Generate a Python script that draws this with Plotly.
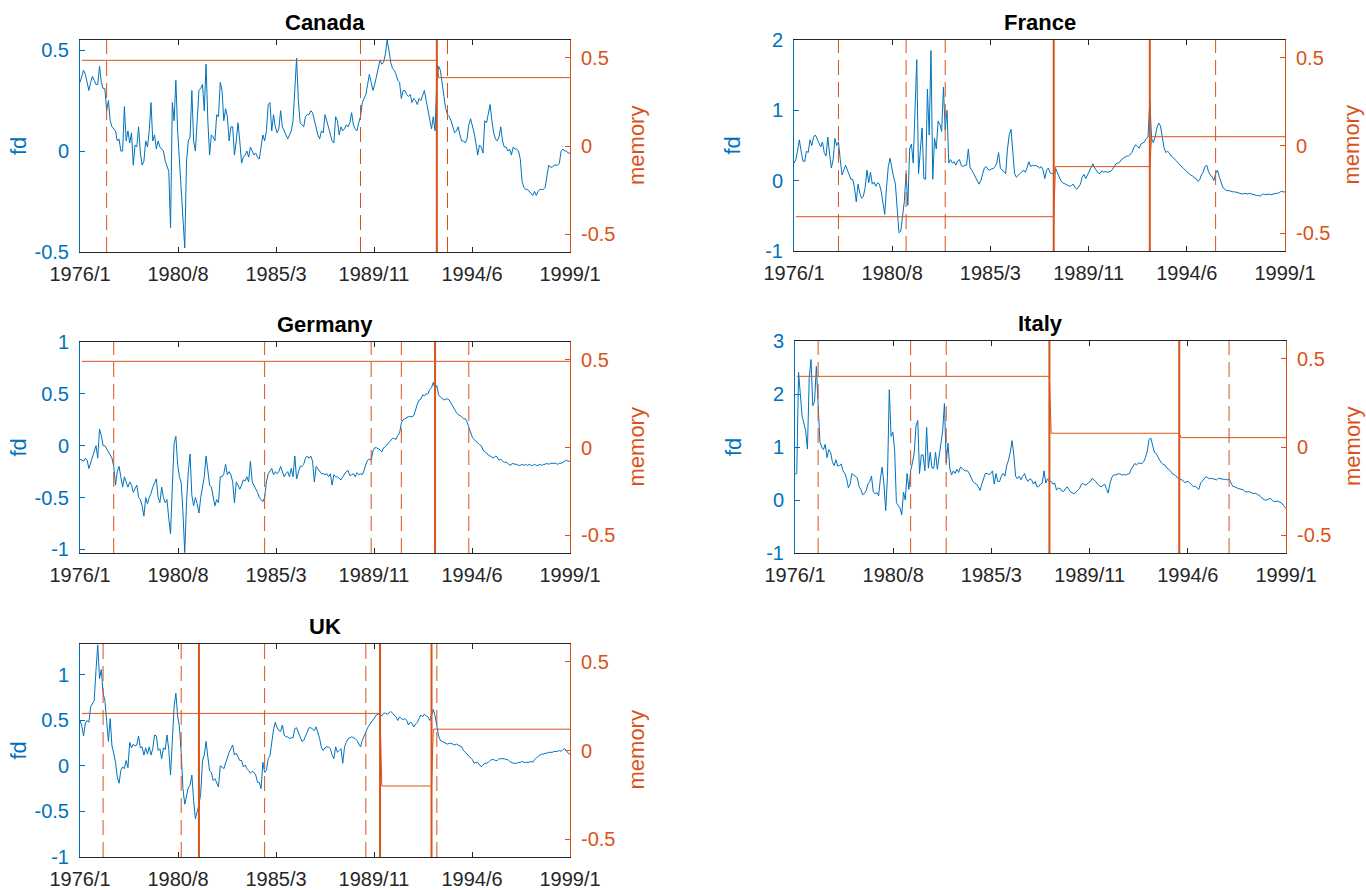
import plotly.graph_objects as go

# ---------------- data ----------------
tick_labels = ['1976/1', '1980/8', '1985/3', '1989/11', '1994/6', '1999/1']
n_months = 277  # 1976/1 .. 1999/1
months = list(range(n_months))

canada_fd = [
    0.34, 0.37, 0.40, 0.38, 0.33, 0.30, 0.34, 0.37, 0.35, 0.33, 0.33, 0.42,
    0.34, 0.31, 0.31, 0.20, 0.25, 0.15, 0.12, 0.11, 0.10, 0.05, 0.06, 0.00,
    0.00, 0.22, 0.05, 0.10, 0.04, 0.09, -0.07, 0.03, 0.02, 0.12, -0.01, -0.07,
    -0.05, 0.05, 0.02, 0.10, 0.24, 0.05, 0.08, 0.01, 0.05, 0.02, 0.01, 0.00,
    -0.05, -0.08, -0.10, -0.38, 0.24, 0.15, 0.35, 0.10, -0.05, -0.20, -0.35, -0.48,
    -0.05, 0.05, 0.07, 0.30, 0.05, 0.00, 0.15, 0.30, 0.31, 0.33, 0.20, 0.43,
    0.15, -0.02, 0.08, 0.07, 0.05, 0.18, 0.17, 0.34, 0.30, 0.15, 0.21, 0.17,
    0.05, 0.12, 0.12, -0.02, 0.05, 0.14, 0.05, -0.06, -0.03, -0.02, 0.00, -0.03,
    0.02, 0.00, -0.02, -0.01, -0.03, -0.04, 0.03, 0.08, 0.05, 0.10, 0.23, 0.24,
    0.10, 0.18, 0.12, 0.09, 0.11, 0.20, 0.12, 0.10, 0.08, 0.06, 0.08, 0.10,
    0.15, 0.30, 0.46, 0.25, 0.14, 0.13, 0.12, 0.17, 0.18, 0.18, 0.20, 0.19,
    0.15, 0.11, 0.08, 0.06, 0.10, 0.09, 0.18, 0.15, 0.12, 0.08, 0.05, 0.04,
    0.17, 0.15, 0.08, 0.12, 0.10, 0.11, 0.13, 0.12, 0.14, 0.19, 0.13, 0.11,
    0.10, 0.14, 0.17, 0.24, 0.26, 0.28, 0.33, 0.38, 0.34, 0.30, 0.33, 0.37,
    0.40, 0.45, 0.43, 0.44, 0.48, 0.55, 0.50, 0.44, 0.41, 0.40, 0.38, 0.35,
    0.34, 0.26, 0.30, 0.30, 0.28, 0.27, 0.28, 0.24, 0.26, 0.25, 0.23, 0.26,
    0.25, 0.28, 0.30, 0.25, 0.20, 0.15, 0.11, 0.17, 0.10, 0.36, 0.42, 0.40,
    0.32, 0.27, 0.21, 0.18, 0.17, 0.15, 0.12, 0.09, 0.10, 0.12, 0.08, 0.05,
    0.05, 0.04, 0.06, 0.13, 0.16, 0.13, 0.09, 0.04, -0.02, 0.03, 0.02, -0.01,
    0.15, 0.14, 0.18, 0.23, 0.15, 0.09, 0.06, 0.05, 0.07, 0.12, 0.05, 0.02,
    0.02, 0.00, 0.01, -0.02, 0.02, 0.01, 0.01, 0.00, -0.04, -0.15, -0.18, -0.19,
    -0.19, -0.20, -0.21, -0.22, -0.20, -0.22, -0.20, -0.19, -0.19, -0.19, -0.18, -0.12,
    -0.07, -0.08, -0.08, -0.07, -0.07, -0.07, -0.06, 0.00, 0.01, 0.00, 0.00, -0.01,
    -0.01,
]

france_fd = [
    0.25, 0.30, 0.42, 0.58, 0.42, 0.28, 0.27, 0.42, 0.40, 0.58, 0.50, 0.62,
    0.65, 0.60, 0.55, 0.48, 0.55, 0.40, 0.35, 0.62, 0.38, 0.18, 0.30, 0.60,
    0.50, 0.55, 0.30, 0.08, 0.15, 0.22, 0.15, 0.08, 0.02, 0.02, -0.10, -0.30,
    -0.05, -0.18, -0.25, -0.22, -0.10, 0.15, -0.03, 0.12, -0.05, -0.02, -0.08, -0.03,
    -0.05, -0.15, -0.30, -0.48, -0.10, 0.20, 0.32, 0.15, 0.05, -0.05, -0.45, -0.74,
    -0.72, -0.50, -0.30, 0.10, -0.35, 0.45, 0.52, 0.25, 0.90, 1.72, 0.10, 0.40,
    0.75, 0.03, 0.02, 1.30, 0.65, 1.85, 0.02, 0.60, 0.45, 0.85, 0.80, 0.70,
    1.33, 0.72, 1.00, 0.25, 0.30, 0.25, 0.27, 0.22, 0.28, 0.30, 0.22, 0.20,
    0.22, 0.22, 0.45, 0.18, 0.15, 0.10, 0.05, 0.00, -0.05, 0.00, 0.08, 0.18,
    0.20, 0.16, 0.15, 0.17, 0.17, 0.20, 0.25, 0.40, 0.18, 0.15, 0.12, 0.10,
    0.45, 0.65, 0.73, 0.35, 0.10, 0.05, 0.08, 0.10, 0.12, 0.15, 0.12, 0.18,
    0.27, 0.20, 0.22, 0.21, 0.22, 0.20, 0.18, 0.20, 0.15, 0.03, 0.15, 0.18,
    0.11, 0.10, 0.09, 0.18, 0.12, 0.05, 0.00, -0.03, -0.04, -0.05, -0.06, -0.08,
    -0.07, -0.05, -0.10, -0.12, -0.09, -0.05, 0.05, 0.09, 0.03, 0.08, 0.12, 0.18,
    0.24, 0.18, 0.15, 0.11, 0.10, 0.14, 0.12, 0.13, 0.12, 0.13, 0.13, 0.16,
    0.20, 0.24, 0.25, 0.26, 0.30, 0.32, 0.33, 0.35, 0.35, 0.37, 0.40, 0.47,
    0.51, 0.49, 0.46, 0.52, 0.54, 0.55, 0.60, 0.62, 1.14, 0.60, 0.54, 0.62,
    0.75, 0.82, 0.78, 0.65, 0.47, 0.40, 0.42, 0.39, 0.35, 0.33, 0.31, 0.28,
    0.25, 0.22, 0.20, 0.17, 0.15, 0.12, 0.10, 0.08, 0.07, 0.04, 0.03, -0.01,
    0.01, 0.08, 0.12, 0.20, 0.22, 0.13, 0.08, 0.06, 0.00, 0.10, 0.15, 0.06,
    -0.03, -0.09, -0.12, -0.14, -0.14, -0.15, -0.15, -0.16, -0.16, -0.17, -0.17, -0.18,
    -0.19, -0.18, -0.19, -0.19, -0.18, -0.19, -0.20, -0.20, -0.21, -0.21, -0.22, -0.20,
    -0.19, -0.20, -0.19, -0.19, -0.20, -0.19, -0.19, -0.18, -0.18, -0.16, -0.15, -0.16,
    -0.16,
]

germany_fd = [
    -0.13, -0.14, -0.15, -0.12, -0.14, -0.22, -0.17, -0.12, -0.05, 0.00, -0.12, 0.16,
    0.10, 0.00, 0.00, -0.03, -0.06, -0.08, -0.12, -0.20, -0.38, -0.25, -0.20, -0.30,
    -0.40, -0.30, -0.35, -0.40, -0.35, -0.38, -0.45, -0.42, -0.38, -0.50, -0.52, -0.58,
    -0.68, -0.50, -0.56, -0.50, -0.46, -0.40, -0.36, -0.32, -0.50, -0.55, -0.40, -0.50,
    -0.55, -0.52, -0.70, -0.85, -0.40, 0.02, 0.09, -0.18, -0.30, -0.36, -0.65, -1.03,
    -0.55, -0.25, -0.08, -0.48, -0.58, -0.50, -0.56, -0.65, -0.50, -0.40, -0.30, -0.10,
    -0.22, -0.38, -0.40, -0.50, -0.58, -0.52, -0.55, -0.30, -0.30, -0.27, -0.18, -0.28,
    -0.25, -0.28, -0.35, -0.55, -0.35, -0.38, -0.42, -0.38, -0.33, -0.34, -0.30, -0.35,
    -0.15, -0.35, -0.38, -0.42, -0.45, -0.50, -0.52, -0.54, -0.50, -0.35, -0.27, -0.24,
    -0.22, -0.28, -0.25, -0.27, -0.25, -0.20, -0.25, -0.30, -0.27, -0.25, -0.30, -0.22,
    -0.30, -0.10, -0.32, -0.25, -0.20, -0.20, -0.18, -0.12, -0.10, -0.12, -0.10, -0.15,
    -0.35, -0.20, -0.22, -0.25, -0.27, -0.27, -0.28, -0.27, -0.30, -0.27, -0.38, -0.28,
    -0.30, -0.30, -0.32, -0.33, -0.30, -0.27, -0.25, -0.24, -0.29, -0.28, -0.27, -0.30,
    -0.26, -0.28, -0.27, -0.28, -0.24, -0.18, -0.14, -0.13, -0.14, -0.05, -0.02, -0.02,
    -0.03, -0.04, -0.06, -0.02, -0.01, 0.01, 0.03, 0.05, 0.07, 0.07, 0.06, 0.10,
    0.12, 0.22, 0.25, 0.26, 0.27, 0.28, 0.28, 0.28, 0.29, 0.36, 0.40, 0.44,
    0.45, 0.49, 0.48, 0.50, 0.50, 0.54, 0.56, 0.61, 0.55, 0.58, 0.49, 0.47,
    0.45, 0.44, 0.45, 0.45, 0.44, 0.41, 0.38, 0.34, 0.32, 0.30, 0.29, 0.28,
    0.26, 0.26, 0.23, 0.18, 0.13, 0.08, 0.06, 0.04, 0.02, 0.01, 0.00, -0.04,
    -0.06, -0.07, -0.09, -0.10, -0.11, -0.12, -0.10, -0.11, -0.14, -0.13, -0.15, -0.16,
    -0.16, -0.17, -0.19, -0.18, -0.17, -0.18, -0.18, -0.19, -0.19, -0.18, -0.19, -0.18,
    -0.19, -0.18, -0.19, -0.19, -0.18, -0.19, -0.19, -0.18, -0.19, -0.18, -0.18, -0.17,
    -0.18, -0.17, -0.17, -0.17, -0.17, -0.18, -0.17, -0.17, -0.16, -0.15, -0.14, -0.15,
    -0.15,
]

italy_fd = [
    0.49, 0.50, 2.41, 1.90, 1.58, 1.45, 1.30, 0.96, 2.30, 2.65, 1.78, 1.86,
    2.52, 1.80, 1.10, 1.00, 0.95, 1.05, 0.80, 0.95, 0.90, 0.72, 0.65, 0.76,
    0.64, 0.65, 0.68, 0.55, 0.50, 0.40, 0.23, 0.30, 0.50, 0.47, 0.45, 0.42,
    0.26, 0.20, 0.10, 0.12, 0.18, 0.30, 0.35, 0.45, 0.15, 0.12, 0.14, 0.08,
    0.40, 0.62, 0.30, -0.20, 0.45, 2.08, 1.20, 1.28, 0.95, -0.05, -0.10, -0.15,
    -0.28, 0.15, 0.00, 0.50, 0.20, 0.55, 0.70, 0.88, 1.40, 1.50, 0.50, 0.85,
    0.85, 0.55, 1.37, 0.60, 0.90, 0.60, 0.60, 0.90, 0.58, 0.85, 1.10, 1.30,
    1.82, 0.70, 1.07, 0.60, 0.47, 0.55, 0.50, 0.58, 0.52, 0.62, 0.60, 0.56,
    0.55, 0.55, 0.50, 0.42, 0.35, 0.32, 0.30, 0.25, 0.18, 0.30, 0.42, 0.50,
    0.50, 0.48, 0.50, 0.55, 0.30, 0.50, 0.35, 0.35, 0.45, 0.50, 0.45, 0.65,
    0.75, 0.90, 1.12, 0.85, 0.45, 0.40, 0.45, 0.38, 0.45, 0.50, 0.40, 0.35,
    0.40, 0.38, 0.30, 0.35, 0.25, 0.25, 0.30, 0.32, 0.55, 0.32, 0.40, 0.35,
    0.35, 0.30, 0.32, 0.19, 0.22, 0.22, 0.17, 0.16, 0.21, 0.25, 0.20, 0.15,
    0.13, 0.12, 0.15, 0.18, 0.22, 0.30, 0.31, 0.28, 0.29, 0.33, 0.35, 0.41,
    0.38, 0.35, 0.30, 0.28, 0.25, 0.27, 0.30, 0.22, 0.13, 0.30, 0.42, 0.47,
    0.47, 0.48, 0.50, 0.48, 0.47, 0.48, 0.47, 0.49, 0.50, 0.58, 0.65, 0.69,
    0.66, 0.70, 0.69, 0.69, 0.72, 0.80, 0.92, 1.14, 1.17, 1.00, 0.90, 0.88,
    0.80, 0.75, 0.70, 0.67, 0.66, 0.60, 0.58, 0.55, 0.50, 0.48, 0.46, 0.42,
    0.40, 0.38, 0.37, 0.33, 0.34, 0.35, 0.32, 0.28, 0.25, 0.26, 0.23, 0.20,
    0.32, 0.36, 0.38, 0.44, 0.42, 0.40, 0.41, 0.40, 0.40, 0.38, 0.41, 0.40,
    0.40, 0.39, 0.39, 0.38, 0.40, 0.33, 0.26, 0.25, 0.23, 0.22, 0.21, 0.20,
    0.19, 0.16, 0.15, 0.16, 0.14, 0.13, 0.12, 0.13, 0.10, 0.09, 0.05, 0.03,
    0.00, 0.00, 0.02, 0.03, 0.01, -0.03, -0.03, -0.02, -0.03, -0.05, -0.07, -0.12,
    -0.16,
]

uk_fd = [
    0.50, 0.44, 0.33, 0.47, 0.50, 0.48, 0.65, 0.68, 0.72, 1.05, 1.33, 0.96,
    1.06, 0.80, 0.72, 0.50, 0.27, 0.52, 0.22, 0.14, 0.04, -0.12, -0.19, -0.05,
    -0.01, -0.03, 0.06, -0.02, 0.26, 0.20, 0.24, 0.22, 0.23, 0.33, 0.20, 0.21,
    0.12, 0.20, 0.13, 0.21, 0.12, 0.19, 0.34, 0.33, 0.17, 0.19, 0.08, 0.20,
    0.18, 0.34, 0.18, -0.10, 0.36, 0.65, 0.80, 0.55, 0.43, 0.15, -0.25, -0.42,
    -0.33, -0.24, -0.21, -0.10, -0.38, -0.58, -0.50, -0.43, -0.30, 0.06, 0.12, 0.27,
    0.10, -0.05, -0.07, -0.16, -0.14, -0.18, -0.23, 0.00, -0.01, -0.03, 0.04, 0.10,
    0.15, 0.19, 0.23, 0.12, 0.14, 0.10, 0.06, 0.06, -0.01, 0.01, -0.03, -0.05,
    -0.08, -0.06, -0.07, -0.10, -0.18, -0.18, -0.25, 0.04, -0.07, -0.05, 0.08, 0.11,
    0.28, 0.40, 0.48, 0.42, 0.39, 0.38, 0.45, 0.34, 0.32, 0.32, 0.30, 0.31,
    0.31, 0.41, 0.42, 0.37, 0.32, 0.27, 0.28, 0.33, 0.38, 0.42, 0.42, 0.40,
    0.39, 0.43, 0.37, 0.30, 0.20, 0.17, 0.20, 0.21, 0.21, 0.19, 0.12, 0.08,
    0.21, 0.15, 0.17, 0.19, 0.03, 0.21, 0.26, 0.30, 0.31, 0.32, 0.31, 0.30,
    0.28, 0.25, 0.21, 0.28, 0.33, 0.38, 0.42, 0.45, 0.48, 0.51, 0.53, 0.56,
    0.57, 0.56, 0.55, 0.58, 0.58, 0.57, 0.58, 0.60, 0.58, 0.56, 0.54, 0.50,
    0.54, 0.52, 0.51, 0.52, 0.50, 0.45, 0.48, 0.47, 0.43, 0.46, 0.48, 0.52,
    0.56, 0.54, 0.57, 0.55, 0.54, 0.50, 0.55, 0.62, 0.55, 0.43, 0.33, 0.28,
    0.27, 0.26, 0.25, 0.24, 0.25, 0.25, 0.24, 0.23, 0.24, 0.23, 0.22, 0.21,
    0.17, 0.15, 0.12, 0.11, 0.08, 0.07, 0.03, 0.04, 0.04, 0.01, -0.01, 0.01,
    0.03, 0.03, 0.04, 0.06, 0.07, 0.07, 0.06, 0.06, 0.08, 0.08, 0.08, 0.08,
    0.07, 0.07, 0.05, 0.04, 0.03, 0.03, 0.03, 0.04, 0.04, 0.05, 0.04, 0.04,
    0.04, 0.04, 0.05, 0.04, 0.07, 0.09, 0.10, 0.12, 0.13, 0.13, 0.14, 0.14,
    0.15, 0.15, 0.15, 0.16, 0.16, 0.16, 0.17, 0.16, 0.18, 0.19, 0.17, 0.14,
    0.13,
]

# break dates (month index from 1976/1)
canada_dashed = [15, 158, 207]
canada_solid = [201]
france_dashed = [25, 63, 85, 237]
france_solid = [146, 200]
germany_dashed = [19, 104, 164, 181, 219]
germany_solid = [200]
italy_dashed = [13, 65, 85, 244]
italy_solid = [143, 216]
uk_dashed = [13, 57, 104, 161, 201]
uk_solid = [67, 169, 198]

# memory parameter per regime, and the months where the regime changes
canada_memory = [0.485, 0.387]
canada_memory_breaks = [201]
france_memory = [-0.405, -0.12, 0.05]
france_memory_breaks = [146, 200]
germany_memory = [0.49]
germany_memory_breaks = []
italy_memory = [0.40, 0.078, 0.053]
italy_memory_breaks = [143, 216]
uk_memory = [0.209, -0.20, 0.12]
uk_memory_breaks = [169, 198]

# ---------------- style ----------------
W, H = 1366, 890
BLUE = '#0072BD'
ORANGE = '#D95319'
AXC = '#262626'
FONT = 'Liberation Sans, Arial, Helvetica, sans-serif'

panels = [
    dict(title='Canada', fd=canada_fd, dashed=canada_dashed, solid=canada_solid,
         mem=canada_memory, mbrk=canada_memory_breaks,
         px=(80, 570), py=(40, 252), yrange=[-0.5, 0.55], yticks=[-0.5, 0, 0.5]),
    dict(title='France', fd=france_fd, dashed=france_dashed, solid=france_solid,
         mem=france_memory, mbrk=france_memory_breaks,
         px=(794, 1285), py=(40, 251), yrange=[-1, 2], yticks=[-1, 0, 1, 2]),
    dict(title='Germany', fd=germany_fd, dashed=germany_dashed, solid=germany_solid,
         mem=germany_memory, mbrk=germany_memory_breaks,
         px=(80, 570), py=(342, 553), yrange=[-1.035, 1.0], yticks=[-1, -0.5, 0, 0.5, 1]),
    dict(title='Italy', fd=italy_fd, dashed=italy_dashed, solid=italy_solid,
         mem=italy_memory, mbrk=italy_memory_breaks,
         px=(795, 1286), py=(341, 553), yrange=[-1, 3], yticks=[-1, 0, 1, 2, 3]),
    dict(title='UK', fd=uk_fd, dashed=uk_dashed, solid=uk_solid,
         mem=uk_memory, mbrk=uk_memory_breaks,
         px=(80, 570), py=(644, 857), yrange=[-1, 1.34], yticks=[-1, -0.5, 0, 0.5, 1]),
]

right_range = [-0.6, 0.6]
right_ticks = [-0.5, 0, 0.5]
x_range = [0, n_months - 1]
x_tickvals = [x_range[0] + i * (x_range[1] - x_range[0]) / 5 for i in range(6)]


def fmt(v):
    return '%g' % v


fig = go.Figure()
layout = dict(width=W, height=H, margin=dict(l=0, r=0, t=0, b=0, pad=0, autoexpand=False),
              paper_bgcolor='white', plot_bgcolor='white', showlegend=False,
              font=dict(family=FONT, size=20, color=AXC))
shapes = []
annotations = []

for i, p in enumerate(panels):
    k = i + 1
    xa = 'x' if k == 1 else 'x%d' % k
    yl_n = 2 * k - 1
    yr_n = 2 * k
    yl = 'y' if yl_n == 1 else 'y%d' % yl_n
    yr = 'y%d' % yr_n
    xdom = [p['px'][0] / W, p['px'][1] / W]
    ydom = [1 - p['py'][1] / H, 1 - p['py'][0] / H]

    fig.add_trace(go.Scatter(x=months, y=p['fd'], mode='lines',
                             line=dict(color=BLUE, width=1), xaxis=xa, yaxis=yl,
                             hoverinfo='skip'))
    # memory step line
    starts = [1] + [b + 1 for b in p['mbrk']]
    ends = [b for b in p['mbrk']] + [x_range[1]]
    mx, my = [], []
    for s, e, v in zip(starts, ends, p['mem']):
        mx += [s, e]
        my += [v, v]
    fig.add_trace(go.Scatter(x=mx, y=my, mode='lines',
                             line=dict(color=ORANGE, width=1), xaxis=xa, yaxis=yr,
                             hoverinfo='skip'))

    for b in p['dashed']:
        shapes.append(dict(type='line', xref=xa, yref=yl + ' domain', x0=b, x1=b, y0=0, y1=1,
                           line=dict(color=ORANGE, width=1, dash='15px,7px')))
    for b in p['solid']:
        shapes.append(dict(type='line', xref=xa, yref=yl + ' domain', x0=b, x1=b, y0=0, y1=1,
                           line=dict(color=ORANGE, width=2)))

    layout['xaxis' if k == 1 else 'xaxis%d' % k] = dict(
        domain=xdom, anchor=yl, range=x_range, tickvals=x_tickvals, ticktext=tick_labels,
        ticks='inside', ticklen=5, tickcolor=AXC, showline=True, linecolor=AXC, linewidth=1,
        mirror='ticks', showgrid=False, zeroline=False, tickfont=dict(size=20, color=AXC),
        ticklabelstandoff=4, automargin=False)
    layout['yaxis' if yl_n == 1 else 'yaxis%d' % yl_n] = dict(
        domain=ydom, anchor=xa, range=p['yrange'], tickvals=p['yticks'],
        ticktext=[fmt(v) for v in p['yticks']],
        ticks='inside', ticklen=5, tickcolor=BLUE, showline=True, linecolor=BLUE, linewidth=1,
        showgrid=False, zeroline=False, tickfont=dict(size=20, color=BLUE),
        ticklabelstandoff=6, automargin=False)
    layout['yaxis%d' % yr_n] = dict(
        domain=ydom, anchor=xa, overlaying=yl, side='right', range=right_range,
        tickvals=right_ticks, ticktext=[fmt(v) for v in right_ticks],
        ticks='inside', ticklen=5, tickcolor=ORANGE, showline=True, linecolor=ORANGE, linewidth=1,
        showgrid=False, zeroline=False, tickfont=dict(size=20, color=ORANGE),
        ticklabelstandoff=6, automargin=False)

    xc = (p['px'][0] + p['px'][1]) / 2 / W
    yc = 1 - (p['py'][0] + p['py'][1]) / 2 / H
    annotations.append(dict(text='<b>%s</b>' % p['title'], xref='paper', yref='paper',
                            x=xc, y=ydom[1], xanchor='center', yanchor='bottom', yshift=3,
                            showarrow=False, font=dict(size=22, color='#000000', family=FONT)))
    annotations.append(dict(text='fd', xref='paper', yref='paper',
                            x=(p['px'][0] - 62) / W, y=yc, xanchor='center', yanchor='middle',
                            textangle=-90, showarrow=False,
                            font=dict(size=22, color=BLUE, family=FONT)))
    annotations.append(dict(text='memory', xref='paper', yref='paper',
                            x=(p['px'][1] + 66) / W, y=yc, xanchor='center', yanchor='middle',
                            textangle=-90, showarrow=False,
                            font=dict(size=22, color=ORANGE, family=FONT)))

layout['shapes'] = shapes
layout['annotations'] = annotations
fig.update_layout(**layout)
fig.write_html('out.html')
